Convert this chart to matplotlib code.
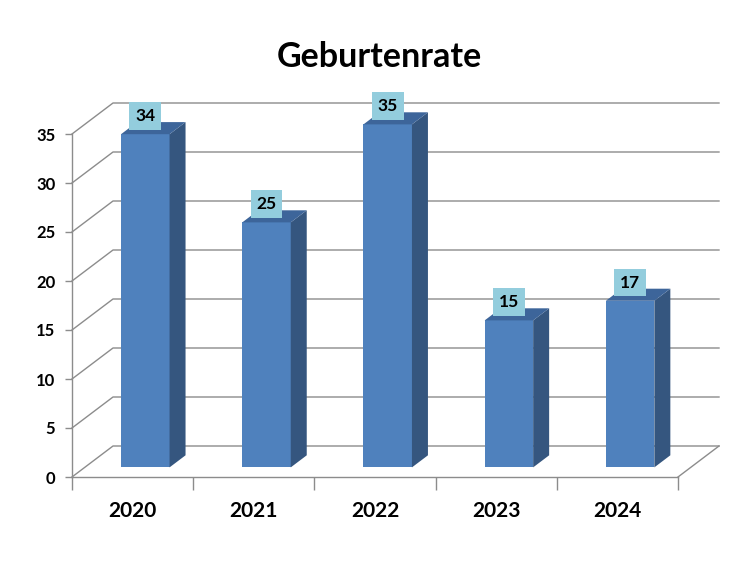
import matplotlib
matplotlib.use("Agg")
import matplotlib.pyplot as plt
from matplotlib.patches import Polygon
from matplotlib.ticker import FixedLocator, NullFormatter

plt.rcParams['font.family'] = ['Lato', 'DejaVu Sans']

title = "Geburtenrate"
categories = ["2020", "2021", "2022", "2023", "2024"]
values = [34, 25, 35, 15, 17]
y_ticks = [0, 5, 10, 15, 20, 25, 30, 35]

front_c = "#4F81BD"
side_c = "#35567F"
top_c = "#3D659A"
label_c = "#93CDDD"
grid_c = "#8C8C8C"

W, H = 740, 565
fig = plt.figure(figsize=(W / 100, H / 100), dpi=100)
ax = fig.add_axes([72 / W, (H - 477) / H, 606 / W, 343 / H])
n = len(categories)
ax.set_xlim(-0.5, n - 0.5)
ax.set_ylim(0, 35)

# depth vector in data units
DX = 41 / (606 / n)
DY = 31 / (343 / 35)

# back wall grid + left wall diagonals
for v in y_ticks:
    ax.plot([-0.5, -0.5 + DX, n - 0.5 + DX], [v, v + DY, v + DY],
            color=grid_c, lw=1, clip_on=False, zorder=1)
# floor right edge
ax.plot([n - 0.5, n - 0.5 + DX], [0, DY], color=grid_c, lw=1, clip_on=False, zorder=1)

# bars
f, g = 0.31, 0.39
bw = 0.40
for i, v in enumerate(values):
    x0 = i - bw / 2 + f * DX
    x1 = i + bw / 2 + f * DX
    y0 = f * DY
    ddx, ddy = g * DX, g * DY
    front = Polygon([[x0, y0], [x1, y0], [x1, y0 + v], [x0, y0 + v]],
                    closed=True, fc=front_c, ec="none", clip_on=False, zorder=3)
    side = Polygon([[x1, y0], [x1 + ddx, y0 + ddy], [x1 + ddx, y0 + ddy + v], [x1, y0 + v]],
                   closed=True, fc=side_c, ec="none", clip_on=False, zorder=3)
    top = Polygon([[x0, y0 + v], [x1, y0 + v], [x1 + ddx, y0 + v + ddy], [x0 + ddx, y0 + v + ddy]],
                  closed=True, fc=top_c, ec="none", clip_on=False, zorder=3)
    for p in (front, side, top):
        ax.add_patch(p)
    ax.text(i + f * DX, y0 + v + 0.85 * ddy, str(v), ha="center", va="bottom",
            fontsize=12.5, fontweight="bold", color="black", zorder=5,
            bbox=dict(boxstyle="square,pad=0.34", fc=label_c, ec="none"))

# spines / axes
for s in ("top", "right"):
    ax.spines[s].set_visible(False)
for s in ("left", "bottom"):
    ax.spines[s].set_color(grid_c)
    ax.spines[s].set_linewidth(1)

ax.set_yticks(y_ticks)
ax.set_yticklabels([str(t) for t in y_ticks], fontsize=12, fontweight="bold")
ax.tick_params(axis="y", length=5, width=1, color=grid_c, pad=7)

ax.xaxis.set_major_locator(FixedLocator([i - 0.5 for i in range(n + 1)]))
ax.xaxis.set_major_formatter(NullFormatter())
ax.set_xticks(range(n), minor=True)
ax.set_xticklabels(categories, minor=True, fontsize=15, fontweight="bold")
ax.tick_params(axis="x", which="major", length=9, width=1, color=grid_c)
ax.tick_params(axis="x", which="minor", length=0, pad=17)
ax.set_facecolor("none")

fig.text(379 / W, 1 - 67 / H, title, ha="center", va="baseline", fontsize=24.5, fontweight="bold")

fig.savefig("out.png", dpi=100)
